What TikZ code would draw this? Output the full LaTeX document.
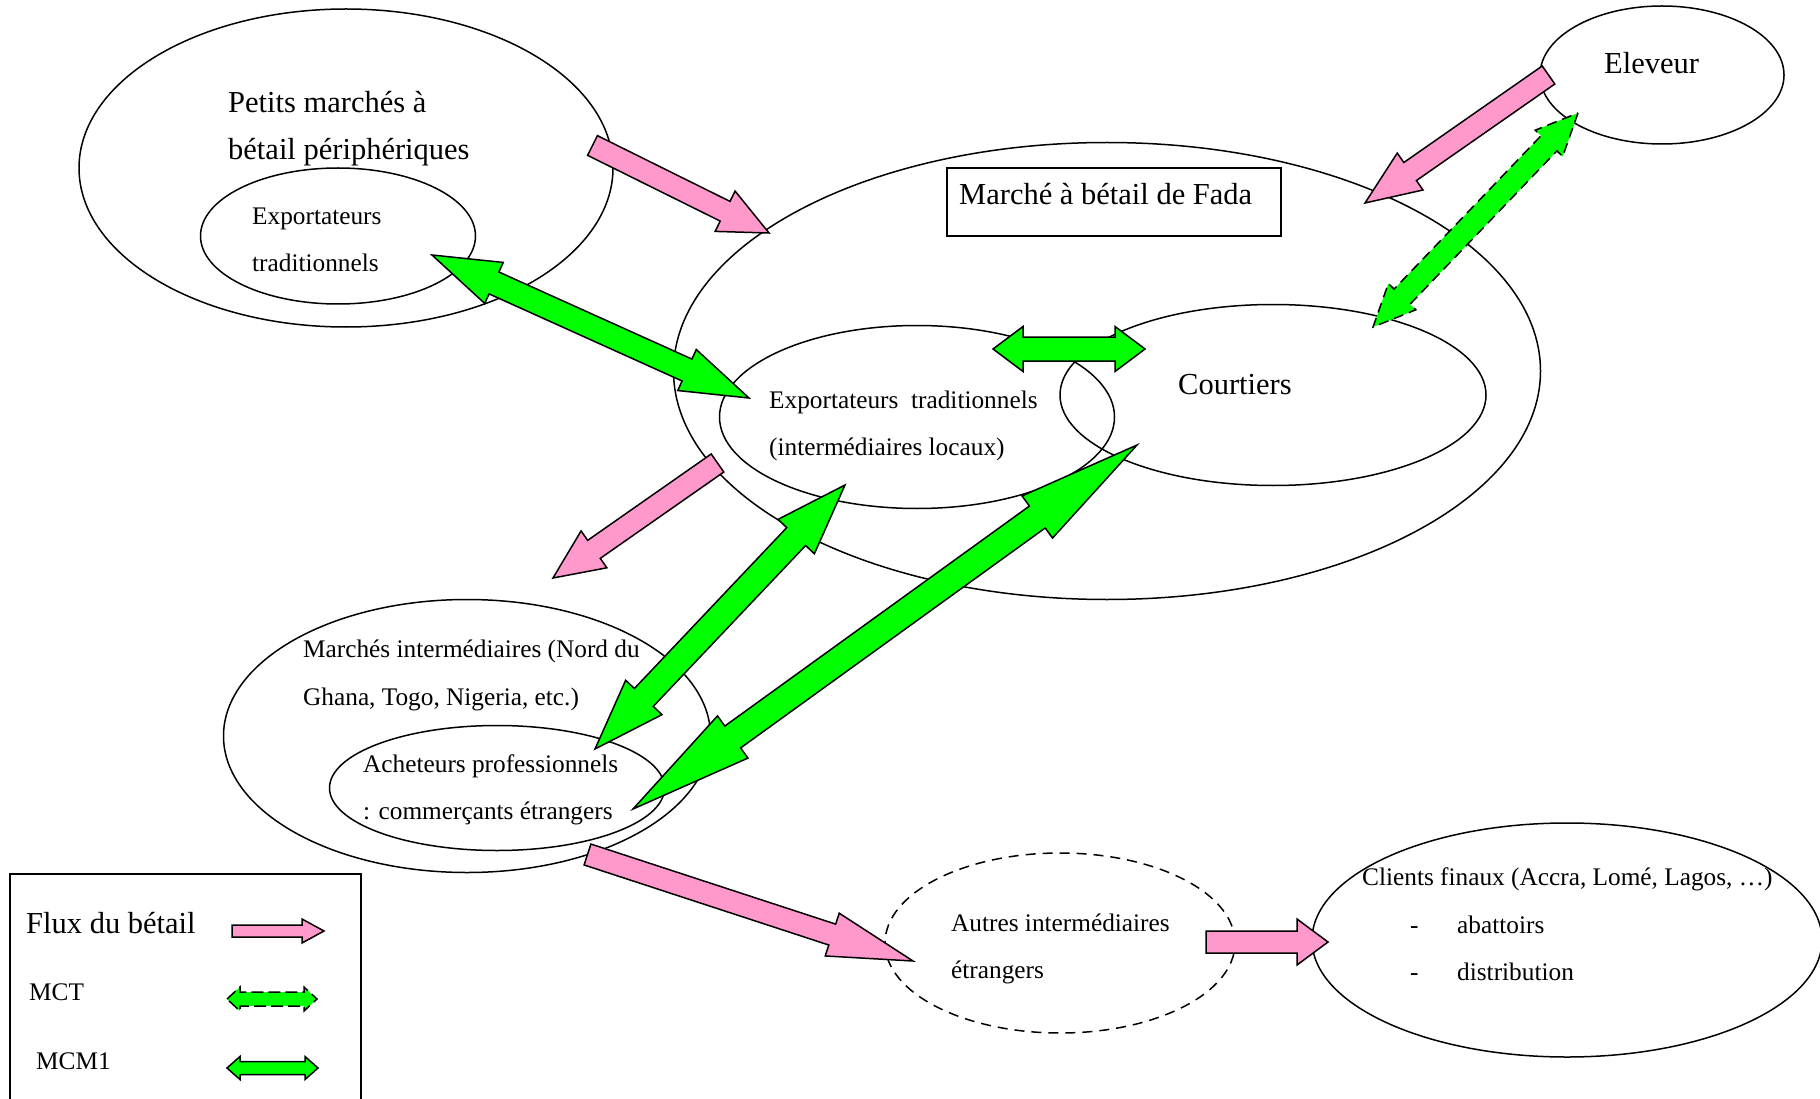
\documentclass[tikz,border=0pt]{standalone}
\usepackage{fontspec}
\setmainfont{Liberation Serif}
\usepackage{tikz}
\usetikzlibrary{shapes.geometric, calc}
\definecolor{fluxpink}{RGB}{255,153,204}
\definecolor{mcmgreen}{RGB}{0,255,0}

% block arrow: tail, tip, half shaft, half head, head length
\newcommand{\sarrow}[6][]{%
  \coordinate (hb) at ($(#3)!#6pt!(#2)$);
  \filldraw[flux, #1] ($(#2)!#4pt!90:(#3)$) -- ($(hb)!#4pt!90:(#3)$) -- ($(hb)!#5pt!90:(#3)$) -- (#3)
    -- ($(hb)!#5pt!-90:(#3)$) -- ($(hb)!#4pt!-90:(#3)$) -- ($(#2)!#4pt!-90:(#3)$) -- cycle;
}
% double block arrow: end, end, half shaft, half head, head length
\newcommand{\darrow}[6][]{%
  \coordinate (ha) at ($(#2)!#6pt!(#3)$);
  \coordinate (hb) at ($(#3)!#6pt!(#2)$);
  \filldraw[mcm, #1] (#2) -- ($(ha)!#5pt!90:(#3)$) -- ($(ha)!#4pt!90:(#3)$) -- ($(hb)!#4pt!90:(#3)$)
    -- ($(hb)!#5pt!90:(#3)$) -- (#3) -- ($(hb)!#5pt!-90:(#3)$) -- ($(hb)!#4pt!-90:(#3)$)
    -- ($(ha)!#4pt!-90:(#3)$) -- ($(ha)!#5pt!-90:(#3)$) -- cycle;
}

\tikzset{
  zone/.style={draw, ellipse, line width=1.5pt, inner sep=0pt},
  flux/.style={draw=black, fill=fluxpink, line width=1.5pt},
  mcm/.style={draw=black, fill=mcmgreen, line width=1.5pt},
  grand/.style={font=\fontsize{30.5}{36}\selectfont, anchor=base west, inner sep=0pt},
  petit/.style={font=\fontsize{25.3}{30}\selectfont, anchor=base west, inner sep=0pt},
}

\begin{document}
\begin{tikzpicture}[x=1pt, y=-1pt]
    \useasboundingbox (0,0) rectangle (1820,1099);

    % Markets and actors
    \node[zone, minimum width=534pt, minimum height=318pt] (petits) at (346,168) {};
    \node[zone, minimum width=275pt, minimum height=136pt] (expA) at (338,236) {};
    \node[zone, minimum width=867pt, minimum height=457pt] (fada) at (1107,371) {};
    \node[draw, line width=1.5pt, minimum width=334pt, minimum height=68pt] (fadabox) at (1114,202) {};
    \node[zone, minimum width=395pt, minimum height=183pt] (expB) at (917,417) {};
    \node[zone, minimum width=426pt, minimum height=181pt] (courtiers) at (1273,395) {};
    \node[zone, minimum width=244pt, minimum height=138pt] (eleveur) at (1662,75) {};
    \node[zone, minimum width=487pt, minimum height=273pt] (marches) at (467,736) {};
    \node[zone, minimum width=335pt, minimum height=125pt] (acheteurs) at (497,788) {};
    \node[zone, dash pattern=on 10pt off 7pt, minimum width=350pt, minimum height=180pt] (autres) at (1060,943) {};
    \node[zone, minimum width=510pt, minimum height=234pt] (clients) at (1567,940) {};

    % Labels
    \node[grand] (petits-l1) at (228,113) {Petits marchés à};
    \node[grand] (petits-l2) at (228,160) {bétail périphériques};
    \node[petit] (expA-l1) at (252,225) {Exportateurs};
    \node[petit] (expA-l2) at (252,272) {traditionnels};
    \node[grand] (fada-l) at (959,205) {Marché à bétail de Fada};
    \node[petit] (expB-l1) at (769,408) {Exportateurs\ \ traditionnels};
    \node[petit] (expB-l2) at (769,455) {(intermédiaires locaux)};
    \node[grand] (courtiers-l) at (1178,394) {Courtiers};
    \node[grand] (eleveur-l) at (1604,74) {Eleveur};
    \node[petit] (marches-l1) at (303,657) {Marchés intermédiaires (Nord du};
    \node[petit] (marches-l2) at (303,705) {Ghana, Togo, Nigeria, etc.)};
    \node[petit] (acheteurs-l1) at (363,772) {Acheteurs professionnels};
    \node[petit] (acheteurs-l2) at (363,819) {: commerçants étrangers};
    \node[petit] (autres-l1) at (951,931) {Autres intermédiaires};
    \node[petit] (autres-l2) at (951,978) {étrangers};
    \node[petit] (clients-l1) at (1362,885) {Clients finaux (Accra, Lomé, Lagos, …)};
    \node[petit] (clients-d1) at (1410,933) {-};
    \node[petit] (clients-l2) at (1457,933) {abattoirs};
    \node[petit] (clients-d2) at (1410,980) {-};
    \node[petit] (clients-l3) at (1457,980) {distribution};

    % Arrow end points
    \coordinate (petits-out) at (592.5,145.5);
    \coordinate (fada-in) at (769,233);
    \coordinate (eleveur-out) at (1548.5,75);
    \coordinate (fada-in2) at (1365,203);
    \coordinate (fada-out) at (717.5,463);
    \coordinate (marches-in) at (553,578);
    \coordinate (acheteurs-out) at (587.5,854.5);
    \coordinate (autres-in) at (913,961);
    \coordinate (autres-out) at (1206,942);
    \coordinate (clients-in) at (1328,942);
    \coordinate (expA-e) at (432,255);
    \coordinate (expB-w) at (749,398);
    \coordinate (expB-e) at (993,349);
    \coordinate (courtiers-w) at (1145,349);
    \coordinate (eleveur-s) at (1578,113);
    \coordinate (courtiers-n) at (1373,327);
    \coordinate (expB-s) at (845,485);
    \coordinate (acheteurs-n) at (595,749);
    \coordinate (courtiers-s) at (1137,445);
    \coordinate (acheteurs-e) at (633,809);

    % Flux du betail
    \sarrow{petits-out}{fada-in}{11}{22.5}{49}
    \sarrow{eleveur-out}{fada-in2}{11}{22.5}{55}
    \sarrow{fada-out}{marches-in}{11}{22.5}{50}
    \sarrow{acheteurs-out}{autres-in}{11}{22.5}{85}
    \sarrow{autres-out}{clients-in}{11}{23}{31}

    % MCM1 and MCT
    \darrow{expA-e}{expB-w}{12}{22.5}{68}
    \darrow{expB-e}{courtiers-w}{12}{22.5}{30}
    \darrow[dash pattern=on 10pt off 6pt]{eleveur-s}{courtiers-n}{11}{19}{42}
    \darrow{expB-s}{acheteurs-n}{13}{25}{71}
    \darrow{courtiers-s}{acheteurs-e}{13.5}{26}{123}

    % Legend
    \node[draw, line width=1.5pt, minimum width=351pt, minimum height=236pt] (legende) at (185.5,992) {};
    \node[grand] (leg-flux) at (26,933) {Flux du bétail};
    \node[petit] (leg-mct) at (29,1000) {MCT};
    \node[petit] (leg-mcm) at (36,1069) {MCM1};
    \coordinate (lf-a) at (232,931);
    \coordinate (lf-b) at (324,931);
    \coordinate (lt-a) at (227,999);
    \coordinate (lt-b) at (317,999);
    \coordinate (lm-a) at (227,1068);
    \coordinate (lm-b) at (318,1068);
    \sarrow{lf-a}{lf-b}{6}{12}{22}
    \darrow[dash pattern=on 12pt off 5pt]{lt-a}{lt-b}{7}{12}{13}
    \darrow{lm-a}{lm-b}{6.5}{11.5}{13}
\end{tikzpicture}
\end{document}
